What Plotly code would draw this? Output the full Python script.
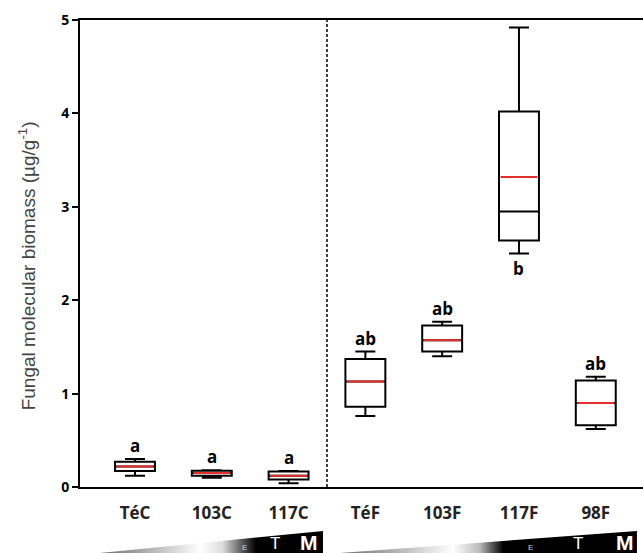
import plotly.graph_objects as go

categories = ["TéC", "103C", "117C", "TéF", "103F", "117F", "98F"]
lower_fence = [0.12, 0.10, 0.04, 0.76, 1.40, 2.50, 0.62]
q1 = [0.17, 0.12, 0.08, 0.86, 1.45, 2.64, 0.66]
median = [0.22, 0.15, 0.12, 1.13, 1.57, 2.95, 0.90]
q3 = [0.27, 0.175, 0.165, 1.37, 1.73, 4.02, 1.14]
upper_fence = [0.30, 0.18, 0.17, 1.45, 1.77, 4.92, 1.18]
mean = [0.22, 0.15, 0.12, 1.13, 1.57, 3.32, 0.90]
letters = ["a", "a", "a", "ab", "ab", "b", "ab"]
letter_below = [False, False, False, False, False, True, False]
y_ticks = [0, 1, 2, 3, 4, 5]
y_title = "Fungal molecular biomass (µg/g<sup>-1</sup>)"

positions = list(range(len(categories)))
box_w = 0.52

fig = go.Figure()

fig.add_trace(go.Box(
    x=positions, q1=q1, median=median, q3=q3,
    lowerfence=lower_fence, upperfence=upper_fence,
    width=box_w, whiskerwidth=0.5,
    fillcolor="white", line=dict(color="black", width=2),
    boxpoints=False, showlegend=False, hoverinfo="skip",
))

mx, my = [], []
for p, m in zip(positions, mean):
    mx += [p - box_w / 2 + 0.02, p + box_w / 2 - 0.02, None]
    my += [m, m, None]
fig.add_trace(go.Scatter(x=mx, y=my, mode="lines",
                         line=dict(color="#e3302f", width=2),
                         showlegend=False, hoverinfo="skip"))

for p, lt, lo, up, below in zip(positions, letters, lower_fence, upper_fence, letter_below):
    fig.add_annotation(
        x=p, y=lo if below else up, xref="x", yref="y",
        text=lt, showarrow=False,
        yanchor="top" if below else "bottom",
        yshift=-1 if below else 0,
        font=dict(family="Open Sans", size=17, color="black", weight="bold"),
    )

# y-axis title
fig.add_annotation(x=-0.094, y=0.538, xref="paper", yref="paper",
                   text=y_title, textangle=-90, showarrow=False,
                   xanchor="center", yanchor="middle",
                   font=dict(family="Liberation Sans", size=19, color="#444"))

# decorative gradient wedges below the axis (E -> T -> M)
wedges = [
    dict(x0=-0.456, x1=2.448,
         cs=[[0, "#6a6a6a"], [0.45, "#ffffff"], [0.55, "#dddddd"], [0.64, "#555555"],
             [0.70, "#000000"], [1, "#000000"]],
         fr=(0.65, 0.785, 0.937)),
    dict(x0=2.669, x1=6.536,
         cs=[[0, "#6a6a6a"], [0.38, "#ffffff"], [0.47, "#bbbbbb"], [0.55, "#000000"],
             [1, "#000000"]],
         fr=(0.64, 0.80, 0.96)),
]
for w in wedges:
    x0, x1 = w["x0"], w["x1"]
    fig.add_trace(go.Scatter(
        x=[x0, x1, x1, x0], y=[0, 1, 0, 0], xaxis="x2", yaxis="y2",
        mode="lines", fill="toself", line=dict(width=0),
        fillgradient=dict(type="horizontal", colorscale=w["cs"]),
        showlegend=False, hoverinfo="skip"))
    span = x1 - x0
    for frac, txt, sz, col, wt in zip(w["fr"], ["E", "T", "M"], [8, 17, 21],
                                      ["#cfcfcf", "white", "white"],
                                      ["normal", "normal", "bold"]):
        fig.add_annotation(x=x0 + frac * span, y=0, xref="x2", yref="y2",
                           text=txt, showarrow=False, yanchor="bottom",
                           yshift=-0.12 * sz,
                           font=dict(family="Liberation Sans", size=sz, color=col,
                                     weight=wt))

fig.add_shape(type="line", xref="x", yref="y domain", x0=2.5, x1=2.5, y0=0, y1=1,
              line=dict(color="black", width=1.5, dash="3px,2px"))

fig.update_layout(
    width=643, height=553,
    margin=dict(l=80, r=0, t=20, b=0, autoexpand=False),
    paper_bgcolor="white", plot_bgcolor="white",
    xaxis=dict(range=[-0.716, 6.615], tickvals=positions, ticktext=categories,
               showline=True, linecolor="black", linewidth=2, mirror=True,
               ticks="", showgrid=False, zeroline=False,
               ticklabelstandoff=10,
               tickfont=dict(family="Open Sans", size=17, color="#222", weight="bold")),
    yaxis=dict(range=[0, 5], tickvals=y_ticks, domain=[66 / 533, 1],
               showline=True, linecolor="black", linewidth=2,
               ticks="outside", ticklen=6, tickwidth=1.5, tickcolor="black",
               showgrid=False, zeroline=False,
               tickfont=dict(family="Open Sans", size=14, color="black", weight="bold")),
    xaxis2=dict(matches="x", anchor="y2", visible=False),
    yaxis2=dict(domain=[0, 22 / 533], range=[0, 1], visible=False),
)

fig.write_html("out.html",
               config={"displayModeBar": False},
               post_script="document.body.style.margin='0';"
                           "document.body.style.overflow='hidden';")
